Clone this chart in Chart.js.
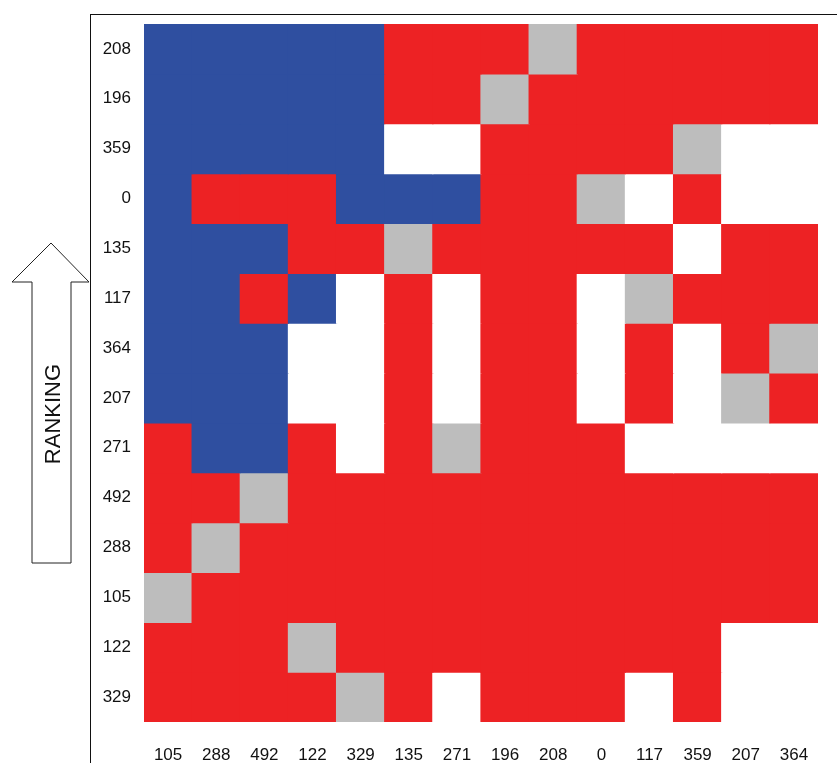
<!DOCTYPE html>
<html lang="en">
<head>
    <meta charset="UTF-8">
    <title>Ranking matrix</title>
    <script src="https://cdn.jsdelivr.net/npm/chart.js"></script>
    <style>
        body { margin: 0; background: #fff; }
        #wrap { position: relative; width: 837px; height: 763px; overflow: hidden; }
        #wrap canvas { position: absolute; left: 0; top: 0; }
        #frame {
            position: absolute; left: 90px; top: 14px; width: 800px; height: 800px;
            border-left: 1.5px solid #111; border-top: 1.5px solid #111; pointer-events: none;
        }
        #arrow { position: absolute; left: 0; top: 0; }
    </style>
    <script>
        // column labels (left to right) and row labels (top to bottom)
        const colLabels = ['105', '288', '492', '122', '329', '135', '271', '196', '208', '0', '117', '359', '207', '364'];
        const rowLabels = ['208', '196', '359', '0', '135', '117', '364', '207', '271', '492', '288', '105', '122', '329'];

        // one string per row, one letter per column: B = blue, R = red, G = same item, W = empty
        const outcomeRows = [
            'BBBBBRRRGRRRRR',
            'BBBBBRRGRRRRRR',
            'BBBBBWWRRRRGWW',
            'BRRRBBBRRGWRWW',
            'BBBRRGRRRRRWRR',
            'BBRBWRWRRWGRRR',
            'BBBWWRWRRWRWRG',
            'BBBWWRWRRWRWGR',
            'RBBRWRGRRRWWWW',
            'RRGRRRRRRRRRRR',
            'RGRRRRRRRRRRRR',
            'GRRRRRRRRRRRRR',
            'RRRGRRRRRRRRWW',
            'RRRRGRWRRRWRWW'
        ];

        const cellColors = { B: '#2F4FA0', R: '#ED2224', G: '#BDBDBD', W: '#FFFFFF' };

        function buildDatasets() {
            const n = rowLabels.length;
            return outcomeRows.map((row, i) => {
                const bottom = n - 1 - i;
                return {
                    label: rowLabels[i],
                    data: colLabels.map(() => [bottom, bottom + 1]),
                    backgroundColor: row.split('').map(c => cellColors[c]),
                    borderWidth: 0,
                    inflateAmount: 0.6,
                    grouped: false,
                    barPercentage: 1,
                    categoryPercentage: 1
                };
            });
        }

        document.addEventListener('DOMContentLoaded', function () {
            const ctx = document.getElementById('matrixChart').getContext('2d');
            const tickFont = { family: 'Liberation Sans, Arial, sans-serif', size: 17 };

            new Chart(ctx, {
                type: 'bar',
                data: {
                    labels: colLabels,
                    datasets: buildDatasets()
                },
                options: {
                    responsive: false,
                    animation: false,
                    layout: { padding: { top: 24, right: 19, left: 0, bottom: 0 } },
                    plugins: {
                        legend: { display: false },
                        tooltip: { enabled: false }
                    },
                    scales: {
                        x: {
                            type: 'category',
                            grid: { display: false, drawTicks: false },
                            border: { display: false },
                            ticks: { color: '#111', font: tickFont, padding: 23, autoSkip: false, maxRotation: 0 },
                            afterFit: function (scale) { scale.height = 41; }
                        },
                        y: {
                            type: 'linear',
                            min: 0,
                            max: rowLabels.length,
                            grid: { display: false, drawTicks: false },
                            border: { display: false },
                            afterBuildTicks: function (scale) {
                                scale.ticks = rowLabels.map((_, i) => ({ value: i + 0.5 }));
                            },
                            ticks: {
                                color: '#111',
                                font: tickFont,
                                padding: 13,
                                autoSkip: false,
                                callback: function (value, index) {
                                    return rowLabels[rowLabels.length - 1 - index];
                                }
                            },
                            afterFit: function (scale) { scale.width = 144; }
                        }
                    }
                }
            });
        });
    </script>
</head>
<body>
    <div id="wrap">
        <canvas id="matrixChart" width="837" height="763"></canvas>
        <div id="frame"></div>
        <svg id="arrow" width="90" height="763">
            <polygon points="51,243 89,282 71,282 71,563 32,563 32,282 12,282"
                     fill="#fff" stroke="#222" stroke-width="1"/>
            <text x="52" y="414" transform="rotate(-90 52 414)" text-anchor="middle" dominant-baseline="central"
                  font-family="Liberation Sans, Arial, sans-serif" font-size="22" fill="#111">RANKING</text>
        </svg>
    </div>
</body>
</html>
